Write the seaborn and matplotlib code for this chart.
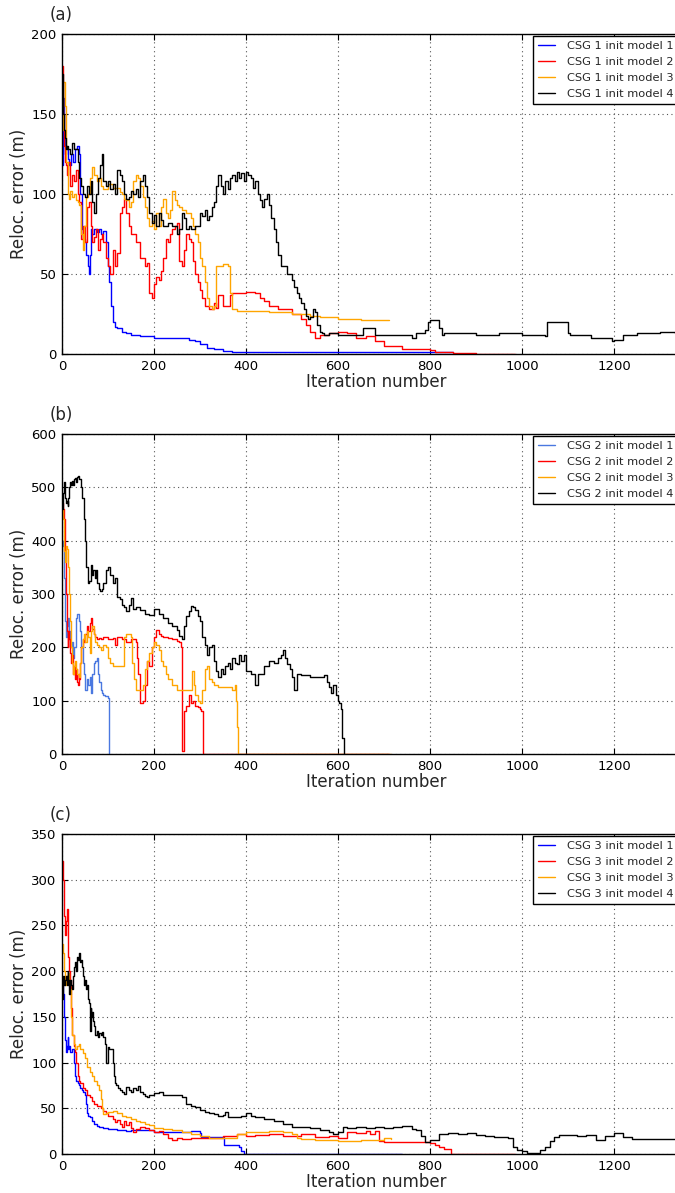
import numpy as np
import pandas as pd
import matplotlib
matplotlib.use("Agg")
import matplotlib.pyplot as plt
import seaborn as sns

# ---------------- data ----------------
# Panel (a): CSG 1
a1_it = [0,2,4,6,8,10,13,16,20,24,28,32,36,40,43,46,50,53,56,58,60,63,66,70,75,80,85,90,95,100,103,106,110,115,120,130,140,150,170,200,230,260,275,290,300,315,330,350,370,400,500,600,700,850]
a1_err = [118,160,140,125,130,128,122,118,125,120,128,130,125,100,78,72,70,62,55,50,62,78,75,78,76,78,75,77,70,55,45,30,20,17,16,14,13,12,11,10,10,10,9,8,6,4,3,2,1.5,1,1,1,1,1]
a2_it = [0,2,4,6,8,10,14,18,22,26,30,34,38,42,46,50,54,58,62,66,70,74,78,82,86,90,95,100,105,110,115,120,125,130,135,140,145,150,160,170,180,185,190,195,200,205,210,215,220,225,230,235,240,245,250,255,260,265,270,275,280,285,290,295,300,305,310,320,330,335,340,350,360,365,370,380,400,420,430,440,450,470,500,520,530,540,550,560,580,600,620,640,660,680,700,740,800,810,850,900,985]
a2_err = [180,150,130,120,118,112,120,105,112,108,115,100,95,72,80,70,92,95,80,70,73,78,65,72,75,70,60,55,50,65,55,63,88,92,97,88,80,75,70,60,55,57,38,35,44,48,46,52,60,72,70,75,78,80,82,58,55,65,75,72,70,58,50,45,40,35,30,28,32,29,37,30,30,37,38,38,39,38,35,33,30,28,25,22,18,14,10,12,13,14,13,10,11,8,5,3,2.5,1,0.5,0.3,0.2]
a3_it = [0,3,6,9,12,15,18,22,26,30,34,38,42,45,48,52,56,60,65,70,75,80,85,90,100,110,120,125,130,135,140,145,150,155,160,165,170,175,180,185,190,195,200,205,210,215,220,225,230,235,240,245,250,255,260,270,280,285,290,295,300,305,310,315,320,325,330,335,340,350,360,365,370,380,400,450,500,520,540,560,600,650,710]
a3_err = [140,170,155,120,100,97,102,98,100,96,95,93,75,65,80,98,100,110,117,112,108,110,105,103,106,104,104,101,100,97,96,92,95,108,112,110,105,98,92,85,80,83,78,88,80,92,97,88,85,90,102,96,93,92,90,88,85,80,75,70,60,55,45,35,30,28,30,55,55,56,55,38,28,27,27,26,25,25,24,23,22,21,21]
a4_it = [0,2,4,6,8,10,14,18,22,26,30,34,38,42,46,50,54,58,62,66,70,74,78,82,86,90,95,100,105,110,115,120,125,130,135,140,145,150,155,160,165,170,175,180,185,190,195,200,205,210,215,220,230,240,250,255,260,265,270,275,280,290,300,305,310,315,320,325,330,335,340,345,350,355,360,365,370,375,380,385,390,395,400,405,410,415,420,425,430,435,440,445,450,455,460,465,470,475,480,490,500,505,510,515,520,525,530,535,540,545,550,555,560,565,570,580,600,620,650,655,680,700,760,770,790,795,800,820,825,830,850,900,950,1000,1050,1055,1100,1105,1150,1195,1200,1220,1250,1300,1333]
a4_err = [175,150,140,135,128,130,128,125,132,128,128,120,110,105,100,98,105,100,108,95,88,100,110,118,125,108,105,108,103,106,100,115,112,108,100,97,98,102,100,103,98,108,112,105,98,88,82,87,80,88,84,80,82,80,75,78,88,85,78,80,78,80,88,86,90,84,86,92,95,105,112,105,100,108,103,110,112,108,114,110,113,108,114,112,110,104,108,100,96,92,97,100,93,85,78,70,62,55,55,50,46,42,38,35,32,28,24,22,23,28,26,18,14,13,12,13,12,12,12,16,12,12,10,13,15,20,21,16,12,13,13,12,13,12,11,20,13,12,10,8,9,12,13,14,13]

# Panel (b): CSG 2
b1_it = [0,2,4,6,8,10,12,15,18,21,24,27,30,33,36,39,42,45,48,51,54,57,60,63,66,69,72,75,78,81,84,87,90,93,96,100,102,103]
b1_err = [400,390,330,250,220,240,255,230,200,210,180,200,255,262,250,230,200,170,150,120,140,130,145,115,150,170,175,180,150,135,120,115,110,108,108,105,0,0]
b2_it = [0,2,4,6,8,10,12,14,16,18,20,22,24,26,28,30,32,34,36,38,40,42,45,48,51,54,57,60,63,66,69,72,75,80,85,90,100,110,115,120,130,140,150,160,163,166,170,175,180,185,190,195,200,205,210,215,220,230,240,250,255,258,260,265,270,275,280,285,290,295,300,303,306,710]
b2_err = [470,460,440,380,300,230,200,230,215,190,170,185,150,165,140,160,135,130,150,140,170,200,215,210,225,240,230,245,255,235,225,220,215,218,215,220,215,218,205,220,215,210,215,210,180,150,95,100,130,175,165,200,220,232,225,222,220,218,215,212,210,200,5,80,90,110,95,100,90,88,85,80,0,0]
b3_it = [0,2,4,6,8,10,12,14,16,18,20,22,24,26,28,30,33,36,39,42,45,48,51,54,57,60,63,66,69,72,75,80,85,90,95,100,105,110,120,130,135,140,150,153,156,160,170,175,180,185,190,195,200,205,210,215,220,225,230,240,250,260,270,280,283,286,290,295,300,305,310,315,320,325,330,340,350,360,370,375,378,380,382,383,715]
b3_err = [460,440,380,360,390,385,375,350,300,250,200,170,150,165,175,160,150,145,170,200,215,225,210,230,220,190,230,240,225,210,205,200,195,205,200,180,170,165,165,165,220,225,220,170,140,120,120,130,160,175,190,200,210,205,195,175,165,150,140,130,120,120,120,120,155,130,110,100,95,120,160,165,140,135,130,125,125,125,120,130,100,50,5,0,0]
b4_it = [0,2,4,6,8,10,12,14,16,18,20,22,24,26,28,30,32,35,38,41,44,47,50,53,56,59,62,65,68,71,74,77,80,83,86,90,95,100,105,110,115,120,125,130,135,140,145,150,155,160,170,180,190,200,210,220,230,240,250,255,260,265,270,275,280,285,290,295,300,305,310,315,320,325,330,335,340,345,350,355,360,365,370,375,380,385,390,395,400,410,420,425,430,440,450,460,470,475,480,485,490,495,500,505,510,520,540,560,570,575,580,585,590,595,600,603,606,609,612]
b4_err = [460,490,510,480,470,475,465,480,500,510,505,512,505,515,518,510,520,522,515,500,480,440,400,350,320,325,355,335,345,330,345,320,310,305,310,320,345,350,335,320,330,295,290,280,275,268,280,292,272,275,270,262,260,272,262,255,245,240,232,222,215,240,258,268,278,275,270,258,250,220,205,185,200,205,175,155,145,160,150,165,170,160,180,170,168,185,175,185,155,150,130,150,150,165,175,170,180,185,195,180,168,160,145,120,150,148,145,145,148,135,125,115,130,110,100,95,85,30,0]

# Panel (c): CSG 3
c1_it = [0,2,4,6,8,10,12,14,16,18,20,22,25,28,31,34,37,40,43,46,50,53,55,57,60,65,70,75,80,90,100,120,140,150,200,250,280,300,303,350,352,385,390,395,740]
c1_err = [185,175,150,125,112,118,128,115,118,112,112,115,100,85,80,78,75,72,70,68,65,55,45,42,40,36,33,31,30,28,27,26,25,26,24,24,25,23,19,19,10,8,3,0,0]
c2_it = [0,2,4,6,8,10,12,14,16,18,20,22,25,28,31,34,37,40,45,50,55,60,65,70,75,80,85,90,95,100,110,115,120,125,130,135,140,145,150,155,160,170,180,190,200,210,220,230,240,250,260,280,300,320,350,380,400,420,450,480,500,520,550,580,600,620,640,660,670,680,690,700,750,800,810,820,830,845,985]
c2_err = [320,300,260,240,255,268,240,215,200,190,160,130,118,112,100,85,80,78,72,70,65,62,58,55,52,53,50,47,45,42,38,35,37,33,30,36,32,35,28,24,27,30,28,26,24,25,22,18,15,17,16,17,17,18,20,22,20,21,22,20,20,22,19,20,18,24,23,25,22,25,14,13,13,12,10,8,5,0,0]
c3_it = [0,2,4,6,8,10,12,15,18,20,22,25,28,32,36,40,45,50,55,60,65,70,75,80,85,88,90,95,100,110,120,130,140,150,160,170,180,190,200,220,240,260,280,300,320,340,360,380,400,450,480,500,510,520,550,600,650,700,715]
c3_err = [230,220,200,185,195,190,198,190,180,150,130,120,115,118,120,115,110,105,95,90,85,80,75,70,60,50,44,45,46,47,45,42,40,38,36,35,33,32,28,27,26,24,22,20,18,17,18,22,24,25,24,22,18,16,15,14,15,17,16]
c4_it = [0,2,4,6,8,10,12,14,16,18,20,22,24,26,28,30,32,34,36,38,40,42,44,46,48,50,52,54,56,58,60,62,64,66,68,70,72,75,78,81,84,87,90,93,96,99,100,103,106,110,112,115,118,121,125,130,135,140,145,150,155,160,165,170,175,180,185,190,200,210,220,230,240,250,260,270,280,290,300,310,320,330,340,350,355,360,370,380,390,400,410,420,440,460,480,500,520,540,560,580,590,600,610,620,640,660,680,700,720,740,760,770,780,790,800,820,840,860,880,900,920,940,960,970,980,990,1000,1010,1040,1050,1060,1070,1080,1100,1120,1140,1160,1180,1200,1220,1240,1260,1300,1333]
c4_err = [170,195,185,190,195,185,200,190,175,190,185,180,195,205,210,200,215,212,218,220,210,212,205,195,185,190,180,185,170,165,135,160,150,155,145,140,130,135,128,132,130,133,128,120,100,115,117,115,115,100,85,78,75,72,70,68,66,73,70,68,72,70,74,68,66,63,62,65,67,68,65,64,65,64,62,55,52,51,48,46,45,44,42,43,46,41,40,40,42,45,42,40,38,36,33,30,29,28,26,24,22,24,30,28,30,28,29,28,30,31,27,26,20,13,15,22,23,22,23,21,20,19,19,18,8,4,3,1,4,8,14,19,21,21,20,21,15,20,23,19,16,16,16,16]

panels = [
    ("(a)", "CSG 1", [(a1_it, a1_err), (a2_it, a2_err), (a3_it, a3_err), (a4_it, a4_err)],
     [0, 50, 100, 150, 200], "#0000ff"),
    ("(b)", "CSG 2", [(b1_it, b1_err), (b2_it, b2_err), (b3_it, b3_err), (b4_it, b4_err)],
     [0, 100, 200, 300, 400, 500, 600], "#4a78e0"),
    ("(c)", "CSG 3", [(c1_it, c1_err), (c2_it, c2_err), (c3_it, c3_err), (c4_it, c4_err)],
     [0, 50, 100, 150, 200, 250, 300, 350], "#0000ff"),
]
x_ticks = [0, 200, 400, 600, 800, 1000, 1200]

# ---------------- style ----------------
sns.set_style("white")
plt.rcParams.update({
    "font.family": ["DejaVu Sans"],
    "axes.edgecolor": "black",
    "axes.linewidth": 1.0,
    "xtick.direction": "in",
    "ytick.direction": "in",
    "xtick.top": True,
    "ytick.right": True,
    "xtick.bottom": True,
    "ytick.left": True,
    "xtick.major.size": 4,
    "ytick.major.size": 4,
    "xtick.color": "black",
    "ytick.color": "black",
})

fig = plt.figure(figsize=(6.75, 11.93), dpi=100)
W, H = 675.0, 1193.0
left = 62 / W
width = (690 - 62) / W
height = 320 / H
tops = [34, 434, 834]

for (tag, csg, series, yticks, c1), top in zip(panels, tops):
    ax = fig.add_axes([left, (H - top - 320) / H, width, height])
    colors = [c1, "#ff0000", "#ffa500", "#000000"]
    for k, ((it, err), col) in enumerate(zip(series, colors)):
        assert len(it) == len(err), (tag, k, len(it), len(err))
        df = pd.DataFrame({"it": it, "err": err})
        sns.lineplot(data=df, x="it", y="err", ax=ax, color=col, lw=1.0,
                     drawstyle="steps-post", estimator=None, sort=False,
                     label=f"{csg} init model {k + 1}")
    ax.set_xlim(0, 1365)
    ax.set_ylim(yticks[0], yticks[-1])
    ax.set_xticks(x_ticks)
    ax.set_yticks(yticks)
    ax.tick_params(labelsize=9.5, pad=4)
    ax.grid(True, linestyle=(0, (1, 3)), color="#555555", linewidth=0.8)
    ax.set_xlabel("Iteration number", fontsize=12, labelpad=0)
    ax.set_ylabel("Reloc. error (m)", fontsize=12, labelpad=2)
    ax.text(-0.02, 1.06, tag, transform=ax.transAxes, fontsize=12,
            ha="left", va="center")
    leg = ax.legend(loc="upper left", bbox_to_anchor=(533 / W, (H - top - 2) / H),
                    bbox_transform=fig.transFigure, borderaxespad=0,
                    fontsize=8.2, frameon=True, fancybox=False,
                    framealpha=1, edgecolor="black",
                    handlelength=1.5, handletextpad=1.0, labelspacing=0.53,
                    borderpad=0.45)
    leg.get_frame().set_linewidth(1.0)

fig.savefig("out.png", dpi=100)
